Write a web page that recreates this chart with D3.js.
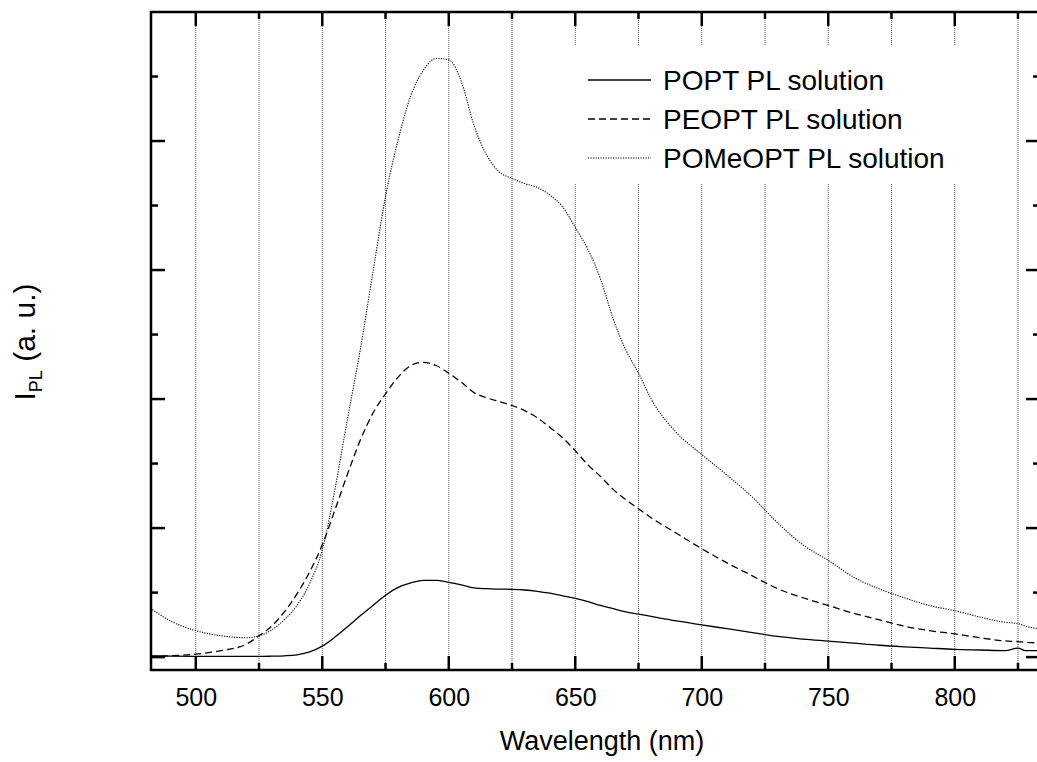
<!DOCTYPE html>
<html>
<head>
<meta charset="utf-8">
<script src="https://cdn.jsdelivr.net/npm/d3@7"></script>
<style>
  body { margin: 0; background: #fff; }
  text { font-family: Arial, "Liberation Sans", sans-serif; fill: #000; }
</style>
</head>
<body>
<svg id="chart" width="1037" height="762"></svg>
<script>
// Wavelength grid (nm) shared by the three spectra
const wavelength = [482, 490, 500, 510, 520, 525, 530, 535, 540, 545, 550, 555, 560, 565, 570, 575,
  580, 585, 590, 595, 600, 605, 610, 615, 620, 625, 630, 635, 640, 645, 650, 655, 660, 665, 670,
  675, 680, 690, 700, 710, 720, 730, 740, 750, 760, 770, 780, 790, 800, 810, 820, 825, 828, 833];

// PL intensities (a. u.), one major y tick = 1
const popt = [0.01, 0.008, 0.006, 0.005, 0.005, 0.005, 0.007, 0.01, 0.018, 0.04, 0.085, 0.155, 0.235,
  0.32, 0.40, 0.48, 0.54, 0.575, 0.595, 0.595, 0.58, 0.56, 0.537, 0.53, 0.527, 0.525, 0.52, 0.51,
  0.495, 0.475, 0.455, 0.43, 0.40, 0.375, 0.35, 0.333, 0.315, 0.28, 0.25, 0.22, 0.19, 0.16, 0.14,
  0.124, 0.108, 0.092, 0.08, 0.07, 0.06, 0.055, 0.05, 0.07, 0.05, 0.05];

const peopt = [0.005, 0.01, 0.023, 0.05, 0.10, 0.165, 0.24, 0.35, 0.49, 0.66, 0.87, 1.14, 1.42,
  1.68, 1.89, 2.04, 2.17, 2.26, 2.285, 2.26, 2.20, 2.13, 2.05, 2.01, 1.98, 1.95, 1.91, 1.855, 1.78,
  1.70, 1.60, 1.49, 1.40, 1.30, 1.22, 1.15, 1.08, 0.96, 0.84, 0.73, 0.63, 0.53, 0.46, 0.40, 0.34,
  0.29, 0.24, 0.205, 0.18, 0.15, 0.125, 0.12, 0.115, 0.11];

const pomeopt = [0.38, 0.28, 0.205, 0.165, 0.15, 0.165, 0.21, 0.29, 0.40, 0.57, 0.83, 1.30, 1.85,
  2.38, 2.98, 3.57, 4.01, 4.35, 4.55, 4.64, 4.63, 4.46, 4.12, 3.89, 3.76, 3.71, 3.67, 3.64, 3.58,
  3.49, 3.33, 3.16, 2.93, 2.62, 2.38, 2.20, 2.00, 1.74, 1.57, 1.41, 1.24, 1.04, 0.87, 0.75, 0.62,
  0.53, 0.46, 0.40, 0.36, 0.31, 0.27, 0.26, 0.24, 0.22];

const seriesNames = ["POPT PL solution", "PEOPT PL solution", "POMeOPT PL solution"];
const seriesValues = [popt, peopt, pomeopt];
const seriesDash = [null, "7,4", "1.2,1.3"];

const xMajorTicks = [500, 550, 600, 650, 700, 750, 800];
const xGridTicks = [500, 525, 550, 575, 600, 625, 650, 675, 700, 725, 750, 775, 800, 825];
const yMajorTicks = [0, 1, 2, 3, 4];
const yMinorTicks = [0.5, 1.5, 2.5, 3.5, 4.5];

const margin = { left: 151, top: 12, right: 1040, bottom: 670 };

const svg = d3.select("#chart");

const x = d3.scaleLinear().domain([482.3, 833.7]).range([margin.left, margin.right]);
const y = d3.scaleLinear().domain([-0.1, 5]).range([margin.bottom, margin.top]);

svg.append("defs").append("clipPath").attr("id", "plot-clip")
  .append("rect")
  .attr("x", margin.left).attr("y", margin.top)
  .attr("width", margin.right - margin.left).attr("height", margin.bottom - margin.top);

// Dotted vertical grid
svg.append("g")
  .selectAll("line")
  .data(xGridTicks)
  .join("line")
  .attr("x1", d => x(d)).attr("x2", d => x(d))
  .attr("y1", margin.top).attr("y2", margin.bottom)
  .attr("stroke", "#555")
  .attr("stroke-width", 1)
  .attr("stroke-dasharray", "1,1");

// Spectra
const line = d3.line()
  .x((d, i) => x(wavelength[i]))
  .y(d => y(d))
  .curve(d3.curveMonotoneX);

svg.append("g")
  .attr("clip-path", "url(#plot-clip)")
  .selectAll("path")
  .data(seriesValues)
  .join("path")
  .attr("d", d => line(d))
  .attr("fill", "none")
  .attr("stroke", "#000")
  .attr("stroke-width", (d, i) => i === 2 ? 1.1 : 1.3)
  .attr("stroke-dasharray", (d, i) => seriesDash[i]);

// Legend (white box hides the grid behind it)
const legend = svg.append("g");
legend.append("rect")
  .attr("x", 560).attr("y", 46).attr("width", 405).attr("height", 137)
  .attr("fill", "#fff");

const legendRows = legend.selectAll("g.row")
  .data(seriesNames)
  .join("g")
  .attr("class", "row")
  .attr("transform", (d, i) => `translate(0, ${80 + i * 39})`);

legendRows.append("line")
  .attr("x1", 588).attr("x2", 651)
  .attr("stroke", "#000")
  .attr("stroke-width", (d, i) => i === 2 ? 1.1 : 1.3)
  .attr("stroke-dasharray", (d, i) => seriesDash[i]);

legendRows.append("text")
  .attr("x", 663).attr("y", 10)
  .attr("font-size", 28)
  .text(d => d);

// Tick labels under the bottom axis
const bottomAxis = d3.axisBottom(x).tickValues(xMajorTicks).tickSize(0).tickPadding(0).tickFormat(d3.format("d"));
const gBottom = svg.append("g").attr("transform", `translate(0, ${margin.bottom})`).call(bottomAxis);
gBottom.select(".domain").remove();
gBottom.selectAll("text")
  .attr("y", 36)
  .attr("dy", null)
  .attr("font-size", 25)
  .attr("font-family", "Arial, 'Liberation Sans', sans-serif")
  .attr("fill", "#000");

// Inward ticks on all four sides
const tickGroup = svg.append("g").attr("stroke", "#000").attr("stroke-width", 2.5);

function xTicks(values, len) {
  values.forEach(v => {
    tickGroup.append("line")
      .attr("x1", x(v)).attr("x2", x(v))
      .attr("y1", margin.bottom).attr("y2", margin.bottom - len);
    tickGroup.append("line")
      .attr("x1", x(v)).attr("x2", x(v))
      .attr("y1", margin.top).attr("y2", margin.top + len);
  });
}
function yTicks(values, len) {
  values.forEach(v => {
    tickGroup.append("line")
      .attr("x1", margin.left).attr("x2", margin.left + len)
      .attr("y1", y(v)).attr("y2", y(v));
    tickGroup.append("line")
      .attr("x1", margin.right).attr("x2", margin.right - len)
      .attr("y1", y(v)).attr("y2", y(v));
  });
}
xTicks(xMajorTicks, 14);
xTicks(xGridTicks.filter(d => !xMajorTicks.includes(d)), 7);
yTicks(yMajorTicks, 14);
yTicks(yMinorTicks, 7);

svg.append("rect")
  .attr("x", margin.left).attr("y", margin.top)
  .attr("width", margin.right - margin.left).attr("height", margin.bottom - margin.top)
  .attr("fill", "none")
  .attr("stroke", "#000")
  .attr("stroke-width", 2.5);

// Axis titles
svg.append("text")
  .attr("x", 602).attr("y", 750)
  .attr("text-anchor", "middle")
  .attr("font-size", 27)
  .text("Wavelength (nm)");

const yTitle = svg.append("text")
  .attr("transform", "translate(35, 342) rotate(-90)")
  .attr("text-anchor", "middle")
  .attr("font-size", 30);
yTitle.append("tspan").text("I");
yTitle.append("tspan").attr("font-size", 18).attr("dy", 7).text("PL");
yTitle.append("tspan").attr("dy", -7).text(" (a. u.)");
</script>
</body>
</html>
